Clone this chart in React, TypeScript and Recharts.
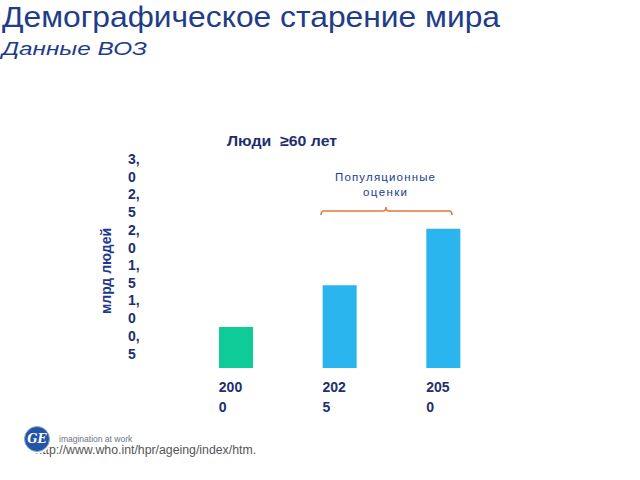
import { BarChart, Bar, XAxis, YAxis, Cell } from "recharts";

// data (billions of people aged 60+)
const years = ["2000", "2025", "2050"];
const elderly = [0.58, 1.17, 1.97];
const yTicks = [0.5, 1.0, 1.5, 2.0, 2.5, 3.0];
const barColors = ["#0fcb97", "#2ab5ef", "#2ab5ef"];

const data = years.map((year, i) => ({ year, value: elderly[i] }));

const NAVY = "#1d2f6f";
const TITLE_BLUE = "#213d8a";
const FONT = "'Liberation Sans', Arial, sans-serif";

function YTick(props: any) {
	const { y, payload } = props;
	const [a, b] = payload.value.toFixed(1).split(".");
	return (
		<text y={y + 8} fill={NAVY} fontSize={14} fontWeight="bold" fontFamily={FONT}>
			<tspan x={128}>{a},</tspan>
			<tspan x={128} dy={18}>
				{b}
			</tspan>
		</text>
	);
}

function XTick(props: any) {
	const { x, y, payload } = props;
	const s = String(payload.value);
	return (
		<text y={y} fill={NAVY} fontSize={14} fontWeight="bold" fontFamily={FONT}>
			<tspan x={x - 17} dy={24}>
				{s.slice(0, 3)}
			</tspan>
			<tspan x={x - 17} dy={20}>
				{s.slice(3)}
			</tspan>
		</text>
	);
}

function Overlay() {
	return (
		<svg
			width={640}
			height={480}
			style={{ position: "absolute", left: 0, top: 0, pointerEvents: "none" }}
		>
			<text
				x={2}
				y={27}
				fill={TITLE_BLUE}
				fontSize={30}
				fontFamily={FONT}
				textLength={498}
				lengthAdjust="spacingAndGlyphs"
			>
				Демографическое старение мира
			</text>
			<text
				x={2}
				y={55}
				fill={TITLE_BLUE}
				fontSize={19}
				fontStyle="italic"
				fontFamily={FONT}
				textLength={145}
				lengthAdjust="spacingAndGlyphs"
			>
				Данные ВОЗ
			</text>
			<text
				x={227}
				y={146}
				fill={NAVY}
				fontSize={15}
				fontWeight="bold"
				fontFamily={FONT}
				textLength={110}
				lengthAdjust="spacingAndGlyphs"
				style={{ whiteSpace: "pre" }}
			>
				{"Люди  ≥60 лет"}
			</text>
			<text
				transform="translate(111,271) rotate(-90)"
				textAnchor="middle"
				fill="#21388a"
				fontSize={14}
				fontWeight="bold"
				fontFamily={FONT}
			>
				млрд людей
			</text>
			<text
				x={335}
				y={181}
				fill={TITLE_BLUE}
				fontSize={11.5}
				fontFamily={FONT}
				textLength={100}
				lengthAdjust="spacing"
			>
				Популяционные
			</text>
			<text
				x={363}
				y={196}
				fill={TITLE_BLUE}
				fontSize={11.5}
				fontFamily={FONT}
				textLength={44}
				lengthAdjust="spacing"
			>
				оценки
			</text>
			<path
				d="M321,215 Q321,211 324,211 L383,211 Q386,211 386,207 Q386,211 389,211 L449,211 Q452,211 452,215"
				fill="none"
				stroke="#e4793a"
				strokeWidth={1.6}
			/>
			<text x={35.3} y={454} fill="#555" fontSize={12.3} fontFamily={FONT}>
				http://www.who.int/hpr/ageing/index/htm.
			</text>
			<text x={59} y={442} fill="#6b7380" fontSize={8.5} fontFamily={FONT}>
				imagination at work
			</text>
			<circle cx={37} cy={439} r={14.5} fill="#fff" />
			<circle cx={37} cy={439} r={12.5} fill="#2454a6" stroke="#8fa8d4" strokeWidth={1} />
			<text
				x={37}
				y={443}
				textAnchor="middle"
				fill="#fff"
				fontSize={12}
				fontStyle="italic"
				fontWeight="bold"
				fontFamily="'DejaVu Serif', serif"
			>
				GE
			</text>
		</svg>
	);
}

export default function App() {
	return (
		<div style={{ position: "absolute", left: 0, top: 0, width: 640, height: 480, background: "#fff" }}>
			<BarChart
				width={640}
				height={480}
				data={data}
				margin={{ top: 156, right: 145, bottom: 52, left: 0 }}
			>
				<XAxis
					dataKey="year"
					height={60}
					axisLine={false}
					tickLine={false}
					tickSize={0}
					tickMargin={0}
					interval={0}
					tick={<XTick />}
				/>
				<YAxis
					width={184}
					domain={[0, 3]}
					ticks={yTicks}
					axisLine={false}
					tickLine={false}
					tick={<YTick />}
					interval={0}
				/>
				<Bar dataKey="value" barSize={34} isAnimationActive={false}>
					{data.map((d, i) => (
						<Cell key={d.year} fill={barColors[i]} />
					))}
				</Bar>
			</BarChart>
			<Overlay />
		</div>
	);
}
